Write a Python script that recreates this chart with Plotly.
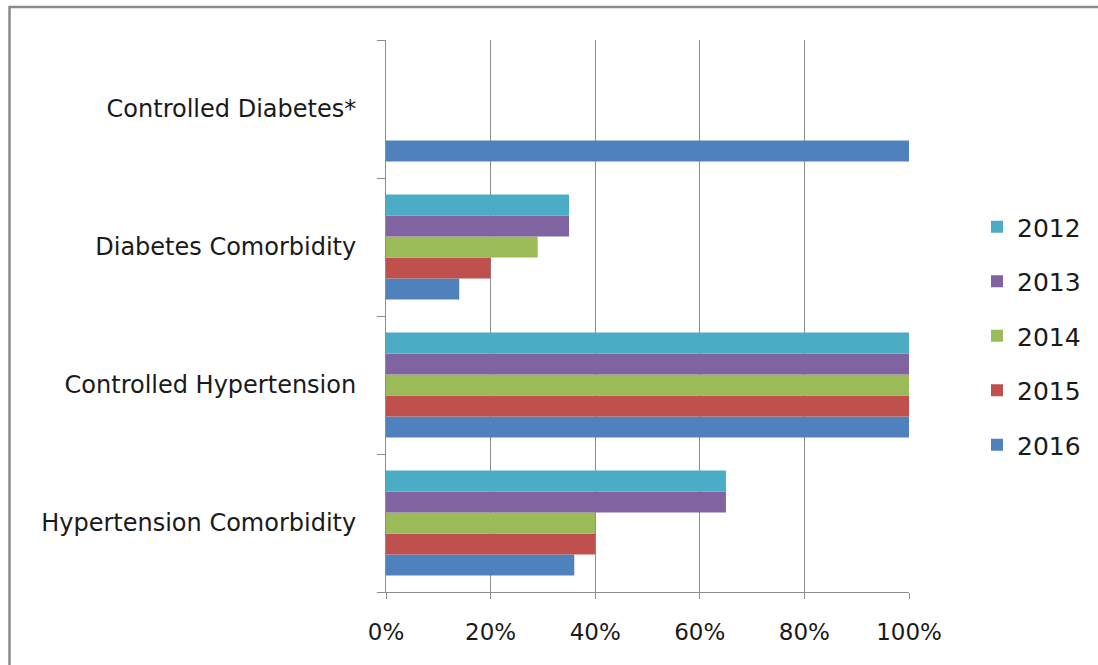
import plotly.graph_objects as go

# Categories listed bottom-to-top as they appear on the vertical axis
categories = [
    "Hypertension Comorbidity",
    "Controlled Hypertension",
    "Diabetes Comorbidity",
    "Controlled Diabetes*",
]

years = ["2012", "2013", "2014", "2015", "2016"]

# Share of patients per category (fractions), one list per year
values_2012 = [0.65, 1.00, 0.35, None]
values_2013 = [0.65, 1.00, 0.35, None]
values_2014 = [0.40, 1.00, 0.29, None]
values_2015 = [0.40, 1.00, 0.20, None]
values_2016 = [0.36, 1.00, 0.14, 1.00]

series = {
    "2012": values_2012,
    "2013": values_2013,
    "2014": values_2014,
    "2015": values_2015,
    "2016": values_2016,
}

colors = {
    "2012": "#4BACC6",
    "2013": "#8064A2",
    "2014": "#9BBB59",
    "2015": "#C0504D",
    "2016": "#4F81BD",
}

x_ticks = [0, 0.2, 0.4, 0.6, 0.8, 1.0]

FONT = "DejaVu Sans, sans-serif"

fig = go.Figure()

# Add 2016 first so it sits at the bottom of each group
for yr in reversed(years):
    fig.add_trace(go.Bar(
        y=categories,
        x=series[yr],
        name=yr,
        orientation="h",
        marker=dict(color=colors[yr], line=dict(width=0)),
        legendgroup=yr,
        legendrank=int(yr),
    ))

W, H = 1098, 665
L, R, T, B = 386, 189, 40, 73
pw, ph = W - L - R, H - T - B

def px_x(p):
    return (p - L) / pw

def px_y(p):
    return (H - B - p) / ph

fig.update_layout(
    width=W,
    height=H,
    margin=dict(l=L, r=R, t=T, b=B, pad=0),
    paper_bgcolor="white",
    plot_bgcolor="white",
    barmode="group",
    bargap=0.24,
    bargroupgap=0,
    font=dict(family=FONT, size=21, color="#1a1a1a"),
    showlegend=True,
    legend=dict(
        x=px_x(977),
        y=px_y(204),
        xanchor="left",
        yanchor="top",
        font=dict(family=FONT, size=25, color="#1a1a1a"),
        tracegroupgap=19,
        bgcolor="rgba(0,0,0,0)",
        itemwidth=30,
    ),
    xaxis=dict(
        range=[0, 1],
        tickvals=x_ticks,
        tickformat=".0%",
        showgrid=True,
        gridcolor="#8c8c8c",
        gridwidth=1,
        showline=True,
        linecolor="#8c8c8c",
        linewidth=1,
        ticks="outside",
        ticklen=6,
        tickcolor="#8c8c8c",
        zeroline=False,
        tickfont=dict(family=FONT, size=23, color="#1a1a1a"),
        ticklabelstandoff=13,
        fixedrange=True,
    ),
    yaxis=dict(
        type="category",
        categoryorder="array",
        categoryarray=categories,
        showline=True,
        linecolor="#8c8c8c",
        linewidth=1,
        ticks="outside",
        tickson="boundaries",
        ticklen=8,
        tickcolor="#8c8c8c",
        showgrid=False,
        tickfont=dict(family=FONT, size=24, color="#1a1a1a"),
        ticklabelstandoff=24,
        fixedrange=True,
    ),
    shapes=[
        # outer chart frame (right and bottom edges run off the canvas)
        dict(
            type="rect",
            xref="paper", yref="paper",
            x0=px_x(9.5), x1=px_x(1200),
            y0=px_y(800), y1=px_y(7),
            line=dict(color="#8a8a8a", width=2.5),
            fillcolor="rgba(0,0,0,0)",
            layer="below",
        ),
    ],
)

fig.write_html("out.html")
